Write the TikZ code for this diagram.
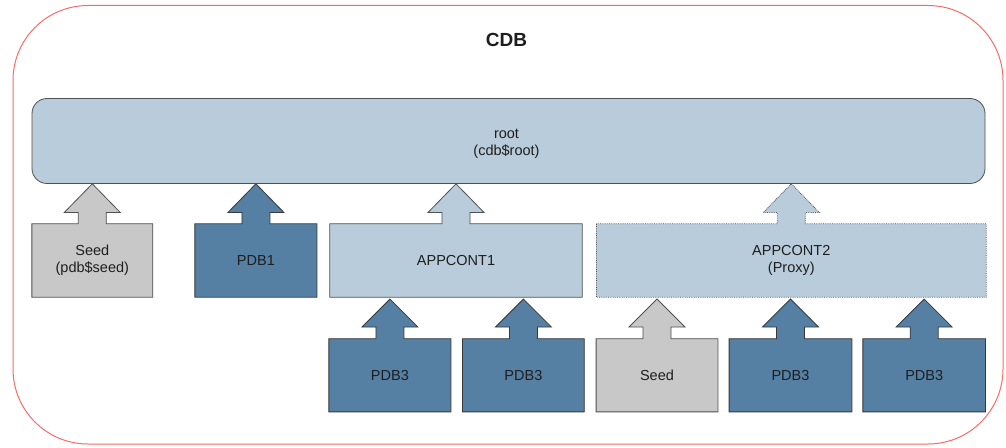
\documentclass[tikz,border=0pt]{standalone}
\usepackage{fontspec}
\setmainfont{Liberation Sans}
\usetikzlibrary{calc,backgrounds}
\definecolor{lblue}{HTML}{B9CCDB}
\definecolor{dblue}{HTML}{5580A3}
\definecolor{lgray}{HTML}{C8C8C8}
\definecolor{edge}{HTML}{505050}
\definecolor{frame}{HTML}{F86A6A}
\definecolor{txt}{HTML}{1E1E1E}
\tikzset{
  label/.style={text=txt,font=\fontsize{14.5}{16.7}\selectfont,align=center,inner sep=0pt},
  boxlight/.style={fill=lblue,draw=edge,line width=0.8pt},
  boxdark/.style={fill=dblue,draw=edge!70!black,line width=0.8pt},
  boxgray/.style={fill=lgray,draw=edge,line width=0.8pt},
  boxproxy/.style={fill=lblue,draw=edge,line width=0.8pt,densely dotted},
}
% #1 node name, #2 style, #3 shaft length, #4 head length
\newcommand\uparrowbox[4]{%
  \begin{scope}[on background layer]
  \path[#2] (#1.north west) -- ($(#1.north)+(-14,0)$) -- ++(0,#3) -- ++(-14,0)
    -- ($(#1.north)+(0,#3+#4)$) -- ($(#1.north)+(28,#3)$) -- ++(-14,0)
    -- ($(#1.north)+(14,0)$) -- (#1.north east) -- (#1.south east) -- (#1.south west) -- cycle;
  \end{scope}}
\begin{document}
\begin{tikzpicture}[x=1pt,y=1pt]
\useasboundingbox (0,0) rectangle (1006,447);
% outer frame
\draw[frame,line width=1pt,rounded corners=75pt] (13,3) rectangle (1003,441.5);
\node[label,font=\fontsize{19}{22}\bfseries\selectfont] (cdb) at (506.5,407) {CDB};
% root
\node[boxlight,rounded corners=15pt,minimum width=953pt,minimum height=85pt] (root) at (508.5,306) {};
\node[label] (roottxt) at (506.5,303) {root\\(cdb\$root)};
% top row
\node[label,minimum width=120.5pt,minimum height=73pt] (seed1) at (92.3,186.5) {Seed\\(pdb\$seed)};
\uparrowbox{seed1}{boxgray}{11.3}{28.7}
\node[label,minimum width=121.7pt,minimum height=73pt] (pdb1) at (255.9,186.5) {PDB1};
\uparrowbox{pdb1}{boxdark}{11.3}{28.7}
\node[label,minimum width=252pt,minimum height=73pt] (app1) at (456,186.5) {APPCONT1};
\uparrowbox{app1}{boxlight}{11.3}{28.7}
\node[label,minimum width=389.3pt,minimum height=73pt] (app2) at (791.3,186.5) {APPCONT2\\(Proxy)};
\uparrowbox{app2}{boxproxy}{11.3}{28.7}
% bottom row
\node[label,minimum width=121.7pt,minimum height=72.7pt] (pdb3a) at (389.9,71.7) {PDB3};
\uparrowbox{pdb3a}{boxdark}{11.7}{28}
\node[label,minimum width=121.3pt,minimum height=72.7pt] (pdb3b) at (523.4,71.7) {PDB3};
\uparrowbox{pdb3b}{boxdark}{11.7}{28}
\node[label,minimum width=121.4pt,minimum height=72.7pt] (seed2) at (657,71.7) {Seed};
\uparrowbox{seed2}{boxgray}{11.7}{28}
\node[label,minimum width=122.4pt,minimum height=72.7pt] (pdb3c) at (790.5,71.7) {PDB3};
\uparrowbox{pdb3c}{boxdark}{11.7}{28}
\node[label,minimum width=122.3pt,minimum height=72.7pt] (pdb3d) at (924.2,71.7) {PDB3};
\uparrowbox{pdb3d}{boxdark}{11.7}{28}
\end{tikzpicture}
\end{document}
